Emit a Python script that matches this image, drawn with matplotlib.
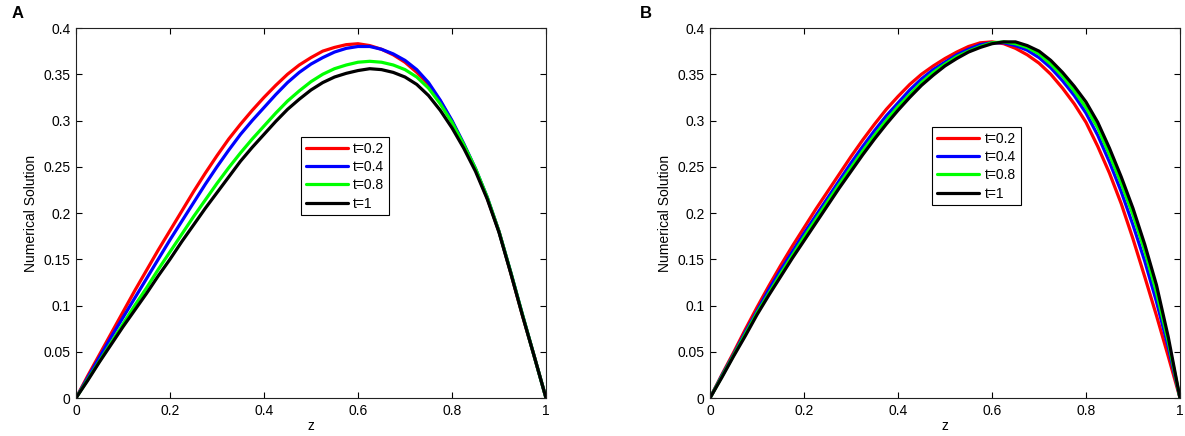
import matplotlib
matplotlib.use("Agg")
import matplotlib.pyplot as plt
from matplotlib.ticker import FuncFormatter

plt.rcParams["font.family"] = ["Liberation Sans", "DejaVu Sans"]

z = [0, 0.025, 0.05, 0.075, 0.1, 0.125, 0.15, 0.175, 0.2, 0.225,
     0.25, 0.275, 0.3, 0.325, 0.35, 0.375, 0.4, 0.425, 0.45, 0.475,
     0.5, 0.525, 0.55, 0.575, 0.6, 0.625, 0.65, 0.675, 0.7, 0.725,
     0.75, 0.775, 0.8, 0.825, 0.85, 0.875, 0.9, 0.925, 0.95, 0.975, 1]

labels = ["t=0.2", "t=0.4", "t=0.8", "t=1"]
colors = ["#ff0000", "#0000ff", "#00ff00", "#000000"]

# panel A
a_t02 = [0, .024, .047, .070, .093, .116, .138, .160, .181, .202,
         .223, .243, .262, .280, .296, .311, .325, .338, .350, .360,
         .368, .375, .379, .382, .383, .381, .377, .371, .363, .352,
         .339, .321, .299, .274, .247, .216, .180, .135, .089, .045, 0]
a_t04 = [0, .022, .044, .066, .087, .108, .129, .150, .171, .191,
         .211, .231, .250, .268, .285, .300, .314, .328, .341, .352,
         .361, .368, .374, .378, .380, .380, .377, .372, .365, .355,
         .341, .322, .300, .275, .248, .217, .180, .136, .090, .045, 0]
a_t08 = [0, .020, .040, .060, .080, .100, .119, .139, .158, .177,
         .196, .214, .232, .249, .265, .280, .294, .308, .321, .332,
         .342, .350, .356, .360, .363, .364, .363, .360, .355, .347,
         .335, .318, .298, .274, .248, .217, .180, .136, .090, .045, 0]
a_t1 = [0, .019, .039, .058, .077, .095, .113, .132, .150, .169,
        .187, .205, .222, .239, .256, .271, .285, .299, .312, .323,
        .333, .341, .347, .351, .354, .356, .355, .352, .347, .339,
        .327, .311, .292, .270, .245, .215, .179, .135, .089, .045, 0]

# panel B
b_t02 = [0, .025, .049, .074, .098, .121, .143, .164, .184, .204,
         .223, .242, .261, .279, .296, .312, .326, .339, .350, .359,
         .367, .374, .380, .384, .385, .383, .378, .371, .362, .350,
         .335, .318, .298, .272, .243, .210, .172, .131, .089, .045, 0]
b_t04 = [0, .024, .047, .071, .094, .117, .138, .158, .178, .197,
         .216, .235, .254, .272, .289, .305, .319, .333, .345, .355,
         .363, .371, .377, .382, .384, .384, .381, .376, .368, .357,
         .343, .327, .308, .284, .255, .223, .187, .148, .104, .055, 0]
b_t08 = [0, .023, .046, .069, .092, .113, .134, .154, .174, .193,
         .212, .231, .249, .267, .284, .300, .315, .328, .341, .352,
         .361, .369, .375, .380, .384, .385, .383, .379, .372, .361,
         .348, .332, .314, .292, .263, .232, .198, .159, .114, .061, 0]
b_t1 = [0, .022, .045, .067, .090, .111, .131, .151, .170, .189,
        .208, .227, .245, .263, .280, .296, .311, .325, .338, .349,
        .359, .367, .374, .379, .383, .385, .385, .381, .375, .365,
        .352, .337, .320, .298, .270, .239, .205, .166, .122, .066, 0]

x_ticks = [0, 0.2, 0.4, 0.6, 0.8, 1]
y_ticks = [0, 0.05, 0.1, 0.15, 0.2, 0.25, 0.3, 0.35, 0.4]


def fmt(v, pos):
    return "%g" % v


def draw_panel(ax, series, legend_anchor):
    for ys, lab, col in zip(series, labels, colors):
        ax.plot(z, ys, color=col, lw=2.3, label=lab, solid_capstyle="round")
    ax.set_xlim(0, 1)
    ax.set_ylim(0, 0.4)
    ax.set_xticks(x_ticks)
    ax.set_yticks(y_ticks)
    ax.xaxis.set_major_formatter(FuncFormatter(fmt))
    ax.yaxis.set_major_formatter(FuncFormatter(fmt))
    ax.tick_params(direction="in", top=True, right=True, length=4,
                   width=0.8, labelsize=10, pad=4)
    for sp in ax.spines.values():
        sp.set_linewidth(0.8)
        sp.set_color("#222222")
    ax.set_xlabel("z", fontsize=10, labelpad=1)
    ax.set_ylabel("Numerical Solution", fontsize=10, labelpad=4)
    leg = ax.legend(loc="upper left", bbox_to_anchor=legend_anchor,
                    fontsize=10, handlelength=3.0, handletextpad=0.4,
                    labelspacing=0.3, borderpad=0.35, borderaxespad=0,
                    fancybox=False, framealpha=1, edgecolor="black")
    leg.get_frame().set_linewidth(0.8)


fig = plt.figure(figsize=(11.85, 4.36), dpi=100)
ax1 = fig.add_axes([76 / 1185, 38 / 436, 470 / 1185, 370 / 436])
ax2 = fig.add_axes([710 / 1185, 38 / 436, 470 / 1185, 370 / 436])

draw_panel(ax1, [a_t02, a_t04, a_t08, a_t1], (0.479, 0.705))
draw_panel(ax2, [b_t02, b_t04, b_t08, b_t1], (0.473, 0.732))

fig.text(12 / 1185, 1 - 13 / 436, "A", fontsize=12, fontweight="bold",
         va="center", ha="left")
fig.text(640 / 1185, 1 - 13 / 436, "B", fontsize=12, fontweight="bold",
         va="center", ha="left")

fig.savefig("out.png", dpi=100)
